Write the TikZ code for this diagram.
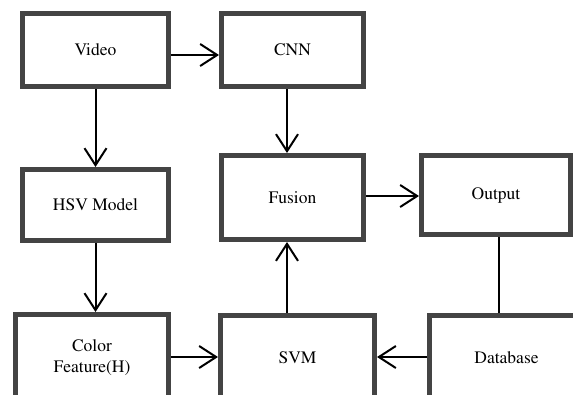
\documentclass[tikz,border=0pt]{standalone}
\usepackage[T1]{fontenc}
\usepackage{times}
\usetikzlibrary{arrows.meta,calc}
\definecolor{boxgray}{RGB}{68,68,68}
\begin{document}
\begin{tikzpicture}[x=1bp,y=-1bp,
  blk/.style={draw=boxgray, line width=5bp, fill=white, rectangle, inner sep=0pt,
    align=center, font=\rmfamily\fontsize{17.5bp}{21bp}\selectfont},
  arr/.style={line width=2bp, -{Straight Barb[length=17bp,width=22bp,line width=2bp]}},
  plain/.style={line width=1.6bp}]
\useasboundingbox (0,0) rectangle (573,394);
\clip (0,0) rectangle (573,394);
\node[blk, minimum width=146bp, minimum height=73bp] (video) at (95.5,50) {Video};
\node[blk, minimum width=142bp, minimum height=73bp] (cnn) at (292.5,50) {CNN};
\node[blk, minimum width=146bp, minimum height=71bp] (hsv) at (95.5,205) {HSV Model};
\node[blk, minimum width=142bp, minimum height=84bp] (fusion) at (292.5,197.5) {Fusion};
\node[blk, minimum width=149bp, minimum height=79bp] (output) at (496,195) {Output};
\node[blk, minimum width=153bp, minimum height=86bp] (color) at (92,357.5) {Color\\Feature(H)};
\node[blk, minimum width=154bp, minimum height=85bp] (svm) at (297.5,358) {SVM};
\node[blk, minimum width=154bp, minimum height=85bp] (db) at (506.5,358) {Database};
\draw[arr] (video.east |- 0,55) -- (cnn.west |- 0,55);
\draw[arr] (video.south) -- (hsv.north -| video.south);
\draw[arr] (hsv.south) -- (color.north -| hsv.south);
\draw[arr] (cnn.south -| 287,0) -- (fusion.north -| 287,0);
\draw[arr] (svm.north -| 287,0) -- (fusion.south -| 287,0);
\draw[arr] (fusion.east |- 0,196) -- (output.west |- 0,196);
\draw[arr] (color.east |- 0,357) -- (svm.west |- 0,357);
\draw[arr] (db.west |- 0,357) -- (svm.east |- 0,357);
\draw[plain] (output.south -| 499,0) -- (db.north -| 499,0);
\end{tikzpicture}
\end{document}
